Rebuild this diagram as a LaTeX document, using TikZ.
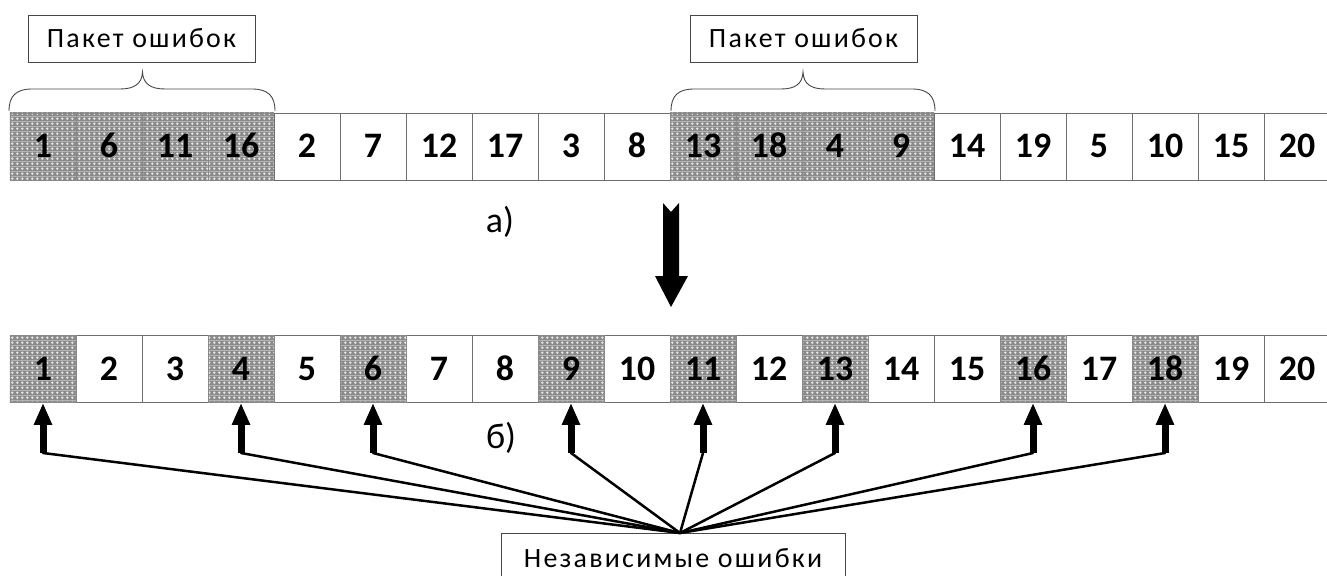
\documentclass[tikz,border=0pt]{standalone}
\usepackage{fontspec}
\setmainfont{Carlito}[Numbers=Lining]
\usetikzlibrary{arrows.meta,patterns.meta}
\definecolor{dotbg}{RGB}{138,138,138}
\definecolor{dotfg}{RGB}{232,232,232}
\definecolor{cellline}{RGB}{110,110,110}
\definecolor{boxline}{RGB}{70,70,70}
\tikzdeclarepattern{name=gdots, type=colored,
  bottom left={(0bp,0bp)}, top right={(5.2bp,5.2bp)}, tile size={(5.2bp,5.2bp)},
  code={\fill[dotbg] (0bp,0bp) rectangle (5.2bp,5.2bp);
        \fill[dotfg] (2.6bp,2.6bp) circle (1.45bp);}}
\tikzset{
  cell/.style={minimum width=66bp, minimum height=67bp, inner sep=0pt,
    text height=23bp, text depth=0pt,
    draw=cellline, line width=0.8bp, font=\fontsize{36}{36}\selectfont\bfseries},
  shaded/.style={pattern=gdots, draw=dotbg},
  lbl/.style={draw=boxline, line width=0.9bp, inner sep=0pt,
    font=\fontsize{28}{28}\selectfont\addfontfeature{LetterSpace=8}},
  bracestyle/.style={draw=boxline, line width=0.9bp},
  feed/.style={line width=2.5bp, line cap=round},
  uparrow/.style={line width=7bp, -{Triangle[width=17bp,length=22bp]}},
  sublbl/.style={font=\fontsize{36}{36}\selectfont, inner sep=0pt}
}
\begin{document}
\begin{tikzpicture}[x=1bp,y=-1bp]
\useasboundingbox (0,0) rectangle (1327,576);
% top row
\foreach \v [count=\i from 0] in {1,6,11,16,2,7,12,17,3,8,13,18,4,9,14,19,5,10,15,20} {
  \pgfmathtruncatemacro\sh{(\i<4)||((\i>9)&&(\i<14))}
  \ifnum\sh=1
    \node[cell,shaded] (t\i) at ({43+66*\i},146.5) {\v};
  \else
    \node[cell] (t\i) at ({43+66*\i},146.5) {\v};
  \fi
}
% bottom row
\foreach \v in {2,3,5,7,8,10,12,14,15,17,19,20}
  \node[cell] (b\v) at ({43+66*(\v-1)},369) {\v};
\foreach \v in {1,4,6,9,11,13,16,18}
  \node[cell,shaded] (b\v) at ({43+66*(\v-1)},369) {\v};
% labels
\node[lbl, minimum width=227bp, minimum height=47bp] (p1) at (141.5,38.5) {Пакет ошибок};
\node[lbl, minimum width=227bp, minimum height=47bp] (p2) at (803.5,38.5) {Пакет ошибок};
\node[lbl, minimum width=344bp, minimum height=50bp] (ind) at (673,558) {Независимые ошибки};
\node[sublbl] (la) at (500,222) {а)};
\node[sublbl] (lb) at (501,438) {б)};
% braces
\draw[bracestyle] (9,111) .. controls (9,96) and (16,89) .. (32,89) -- (120,89)
  .. controls (134,89) and (142,84) .. (142.5,72)
  .. controls (143,84) and (151,89) .. (165,89) -- (252,89)
  .. controls (268,89) and (275,96) .. (275,111);
\draw[bracestyle] (671,111) .. controls (671,96) and (678,89) .. (694,89) -- (781,89)
  .. controls (795,89) and (802.5,84) .. (803,72)
  .. controls (803.5,84) and (811,89) .. (825,89) -- (912,89)
  .. controls (928,89) and (935,96) .. (935,111);
% big arrow
\fill (663,203) -- (671,212) -- (679,203) -- (679,276) -- (688,276) -- (671,307)
  -- (655,276) -- (663,276) -- cycle;
% independent errors
\coordinate (conv) at (680,533);
\foreach \v in {1,4,6,9,11,13,16,18} {
  \coordinate (a\v) at ({43+66*(\v-1)},453);
  \draw[feed] (a\v) -- (conv);
  \draw[uparrow] (a\v) -- (b\v.south);
}
\end{tikzpicture}
\end{document}
